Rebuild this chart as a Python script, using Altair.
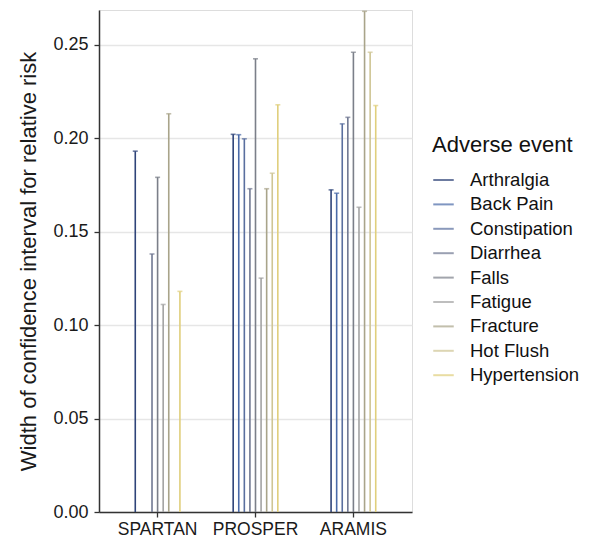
import altair as alt
import pandas as pd

studies = ["SPARTAN", "PROSPER", "ARAMIS"]
events = ["Arthralgia", "Back Pain", "Constipation", "Diarrhea", "Falls",
          "Fatigue", "Fracture", "Hot Flush", "Hypertension"]
colors = ["#2f4479", "#4a6aa8", "#5a6f9f", "#707892", "#7b7f89",
          "#a3a3a3", "#a9a48a", "#cfc594", "#e0cf7c"]

spartan = [0.193, None, None, 0.138, 0.179, 0.111, 0.213, None, 0.118]
prosper = [0.202, 0.2018, 0.1996, 0.1729, 0.2424, 0.1251, 0.1729, 0.1812, 0.2178]
aramis = [0.1723, 0.1705, 0.2076, 0.2111, 0.2459, 0.163, 0.2678, 0.2459, 0.2174]

rows = []
for study, vals in zip(studies, [spartan, prosper, aramis]):
    for ev, v in zip(events, vals):
        if v is not None:
            rows.append({"Study": study, "Event": ev, "Width": v})
df = pd.DataFrame(rows)

FONT = "Liberation Sans"

x = alt.X("Study:N", sort=studies, title=None,
          scale=alt.Scale(paddingInner=0.487, paddingOuter=0.342),
          axis=alt.Axis(labelAngle=0, labelFontSize=17.5, labelColor="#1a1a1a",
                        labelPadding=3, tickSize=5, tickColor="#333",
                        domainColor="#333", domainWidth=1.5, tickWidth=1.3))
xo = alt.XOffset("Event:N", sort=events, scale=alt.Scale(domain=events))
y = alt.Y("Width:Q", title="Width of confidence interval for relative risk",
          scale=alt.Scale(domain=[0, 0.2685], nice=False),
          axis=alt.Axis(values=[0, 0.05, 0.10, 0.15, 0.20, 0.25], format=".2f",
                        labelFontSize=18, labelColor="#1a1a1a", labelPadding=6,
                        tickSize=5, tickColor="#333", domainColor="#333",
                        domainWidth=1.5, tickWidth=1.3, grid=True,
                        gridColor="#e6e6e6", gridWidth=1.3,
                        titleFontSize=22, titleFontWeight="normal",
                        titleColor="#1a1a1a", titlePadding=12))
color = alt.Color("Event:N", sort=events,
                  scale=alt.Scale(domain=events, range=colors),
                  legend=alt.Legend(title="Adverse event", orient="none",
                                    legendX=333, legendY=125,
                                    titleFontSize=22, titleFontWeight="normal",
                                    titleColor="#111", titlePadding=13,
                                    labelFontSize=18.5, labelColor="#111",
                                    labelOffset=15, symbolType="stroke",
                                    symbolSize=420, symbolStrokeWidth=2,
                                    clipHeight=20, rowPadding=4.4,
                                    labelLimit=200))

rules = alt.Chart(df).mark_rule(strokeWidth=1.6).encode(
    x=x, xOffset=xo, y=y, y2=alt.datum(0), color=color)
caps = alt.Chart(df).mark_tick(size=5, thickness=1.6, orient="horizontal").encode(
    x=x, xOffset=xo, y=y, color=color)

chart = (rules + caps).properties(
    width=313, height=502,
    autosize=alt.AutoSizeParams(type="none"),
    padding={"left": 91, "top": 2, "right": 170, "bottom": 25},
).configure_view(stroke=None).configure(font=FONT)

chart.save("out.html", embed_options={"renderer": "svg", "actions": False})
